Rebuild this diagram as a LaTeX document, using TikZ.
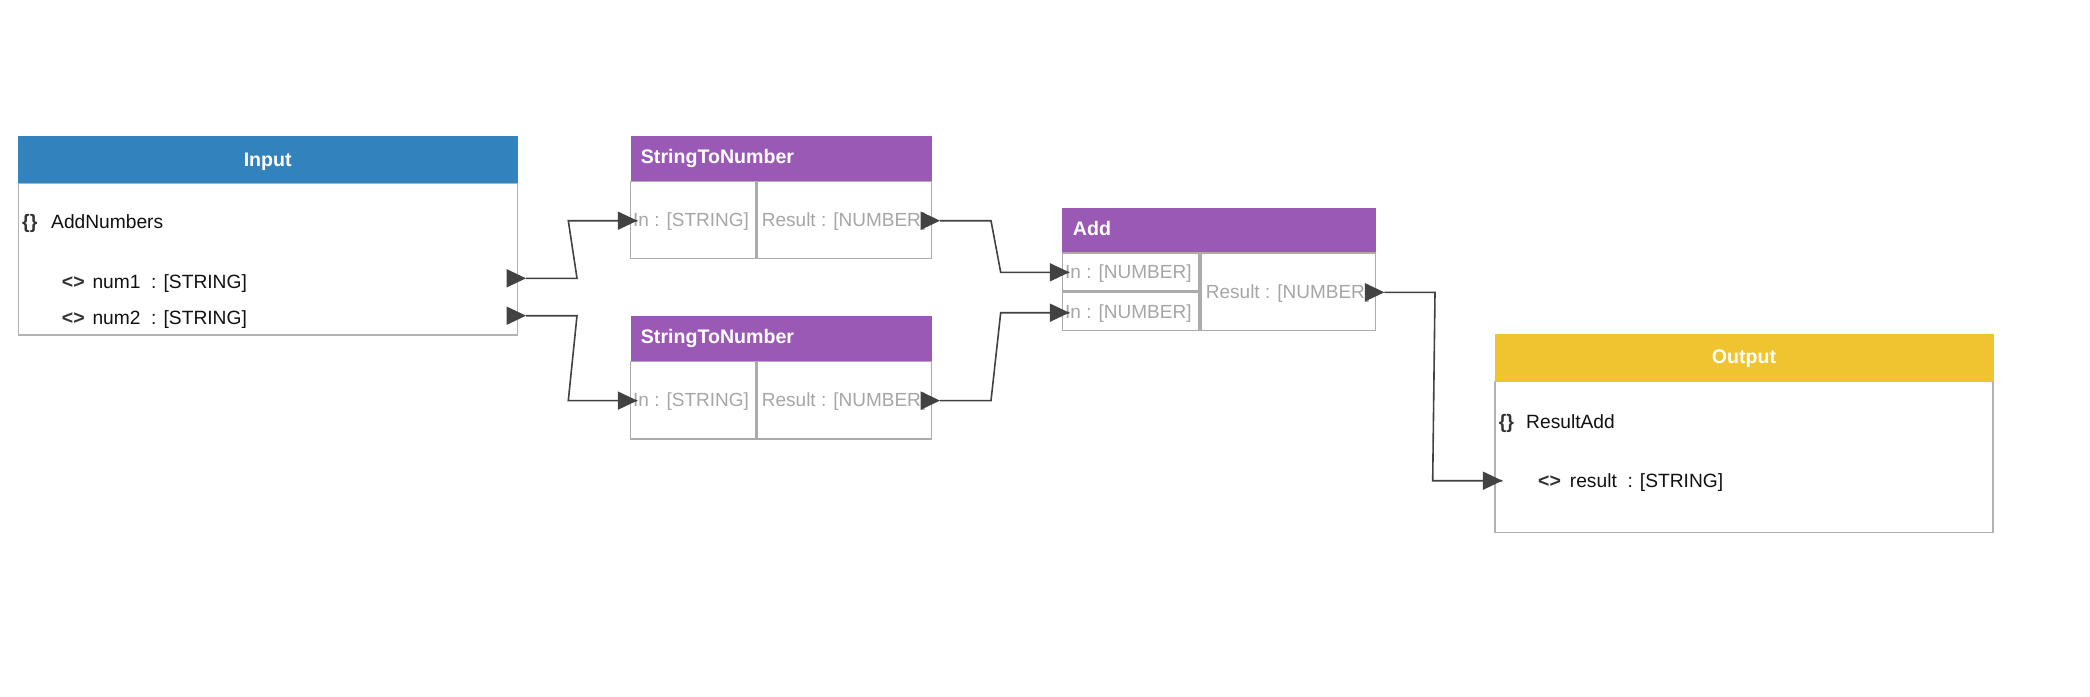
\documentclass[tikz,border=0pt]{standalone}
\usepackage{fontspec}
\setmainfont{Liberation Sans}
\usetikzlibrary{shapes.geometric}
\definecolor{inblue}{HTML}{3182BD}
\definecolor{fnpurple}{HTML}{9B59B6}
\definecolor{outyellow}{HTML}{F0C330}
\definecolor{boxgrey}{HTML}{B2B2B2}
\definecolor{cellgrey}{HTML}{ABABAB}
\definecolor{portgrey}{HTML}{A6A6A6}
\definecolor{arrowgrey}{HTML}{424242}
\definecolor{txtblack}{HTML}{111111}
\definecolor{symgrey}{HTML}{333333}
\begin{document}
\begin{tikzpicture}[x=1pt,y=-1pt,
  hdr/.style={draw=none, inner sep=0pt, outer sep=0pt, anchor=north west},
  frame/.style={draw=boxgrey, line width=1.5pt, fill=white, inner sep=0pt, outer sep=0pt, anchor=north west},
  cell/.style={draw=cellgrey, line width=1.5pt, fill=white, inner sep=0pt, outer sep=0pt, anchor=north west},
  ttl/.style={text=white, font=\fontsize{19.6}{22}\selectfont\bfseries, inner sep=0pt},
  txt/.style={text=txtblack, font=\fontsize{19.2}{22}\selectfont, inner sep=0pt, anchor=base west},
  ptxt/.style={text=portgrey, font=\fontsize{19}{22}\selectfont, inner sep=0pt, anchor=base west},
  sym/.style={text=symgrey, font=\fontsize{19.5}{22}\selectfont\bfseries, inner sep=0pt, anchor=base west},
  porttri/.style={isosceles triangle, isosceles triangle stretches, shape border rotate=0,
    fill=arrowgrey, draw=none, minimum width=18.5pt, minimum height=19.5pt,
    inner sep=0pt, outer sep=0pt, anchor=apex},
  wire/.style={draw=arrowgrey, line width=1.6pt, line join=miter}
]
\fill[white] (0,0) rectangle (2090,696);
\useasboundingbox (0,0) rectangle (2090,696);

% ---------- Input ----------
\node[frame, minimum width=499.2pt, minimum height=151.7pt] (inBody) at (18.4,183.3) {};
\node[hdr, fill=inblue, minimum width=499.2pt, minimum height=47.3pt] (inHead) at (18.4,136) {};
\node[ttl, anchor=base] (inTitle) at (267.7,166) {Input};
\node[sym] (inBr) at (22,228.3) {\{\}};
\node[txt] (inName) at (51,228.3) {AddNumbers};
\node[sym] (inA1) at (61.7,288.7) {<>};
\node[txt] (inT1) at (92.3,288.7) {num1\ \ : [STRING]};
\node[sym] (inA2) at (61.7,324) {<>};
\node[txt] (inT2) at (92.3,324) {num2\ \ : [STRING]};

% ---------- StringToNumber 1 ----------
\node[cell, minimum width=124.8pt, minimum height=76.8pt] (sa1) at (630.7,181.5) {};
\node[cell, minimum width=174.7pt, minimum height=76.8pt] (sa2) at (757,181.5) {};
\node[hdr, fill=fnpurple, minimum width=301pt, minimum height=44.7pt] (saHead) at (630.7,136) {};
\node[ttl, anchor=base west] (saTitle) at (640.7,163.3) {StringToNumber};
\node[ptxt] (saIn) at (633,226) {In : [STRING]};
\node[ptxt] (saRes) at (761.7,226) {Result : [NUMBER]};

% ---------- StringToNumber 2 ----------
\node[cell, minimum width=124.8pt, minimum height=77.5pt] (sb1) at (630.7,361.5) {};
\node[cell, minimum width=174.7pt, minimum height=77.5pt] (sb2) at (757,361.5) {};
\node[hdr, fill=fnpurple, minimum width=301pt, minimum height=44.7pt] (sbHead) at (630.7,316) {};
\node[ttl, anchor=base west] (sbTitle) at (640.7,343.3) {StringToNumber};
\node[ptxt] (sbIn) at (633,406) {In : [STRING]};
\node[ptxt] (sbRes) at (761.7,406) {Result : [NUMBER]};

% ---------- Add ----------
\node[cell, minimum width=136.9pt, minimum height=37.7pt] (ad1) at (1062.3,252.8) {};
\node[cell, minimum width=136.9pt, minimum height=38.5pt] (ad2) at (1062.3,292.2) {};
\node[cell, minimum width=174.8pt, minimum height=77.9pt] (ad3) at (1200.9,252.8) {};
\node[hdr, fill=fnpurple, minimum width=313.4pt, minimum height=43.7pt] (adHead) at (1062.3,208.3) {};
\node[ttl, anchor=base west] (adTitle) at (1072.7,235) {Add};
\node[ptxt] (adIn1) at (1065,278.3) {In : [NUMBER]};
\node[ptxt] (adIn2) at (1065,318.3) {In : [NUMBER]};
\node[ptxt] (adRes) at (1205.7,298.3) {Result : [NUMBER]};

% ---------- Output ----------
\node[frame, minimum width=498pt, minimum height=150.6pt] (outBody) at (1495,381.7) {};
\node[hdr, fill=outyellow, minimum width=498.5pt, minimum height=47.4pt] (outHead) at (1495,334.3) {};
\node[ttl, anchor=base] (outTitle) at (1744,363.3) {Output};
\node[sym] (outBr) at (1498.6,428.3) {\{\}};
\node[txt] (outName) at (1526,428.3) {ResultAdd};
\node[sym] (outA) at (1538,487.7) {<>};
\node[txt] (outT) at (1569.7,487.7) {result\ \ : [STRING]};

% ---------- port markers ----------
\node[porttri] (pNum1) at (526,278.3) {};
\node[porttri] (pNum2) at (526,315.7) {};
\node[porttri] (pSaIn) at (637.3,220.7) {};
\node[porttri] (pSaOut) at (940,220.7) {};
\node[porttri] (pSbIn) at (637.3,400.6) {};
\node[porttri] (pSbOut) at (940,400.6) {};
\node[porttri] (pAdIn1) at (1069.3,272.3) {};
\node[porttri] (pAdIn2) at (1069.3,312.7) {};
\node[porttri] (pAdOut) at (1384.3,292.3) {};
\node[porttri] (pOutIn) at (1502.3,480.7) {};

% ---------- connectors ----------
\draw[wire] (pNum1.apex) -- (577,278.3) -- (568.3,220.7) -- (pSaIn.apex);
\draw[wire] (pNum2.apex) -- (577,315.7) -- (568.3,400.6) -- (pSbIn.apex);
\draw[wire] (pSaOut.apex) -- (991,220.7) -- (1000.7,272.3) -- (pAdIn1.apex);
\draw[wire] (pSbOut.apex) -- (991,400.6) -- (1000.7,312.7) -- (pAdIn2.apex);
\draw[wire] (pAdOut.apex) -- (1435,292.3) -- (1432.7,480.7) -- (pOutIn.apex);
\end{tikzpicture}
\end{document}
